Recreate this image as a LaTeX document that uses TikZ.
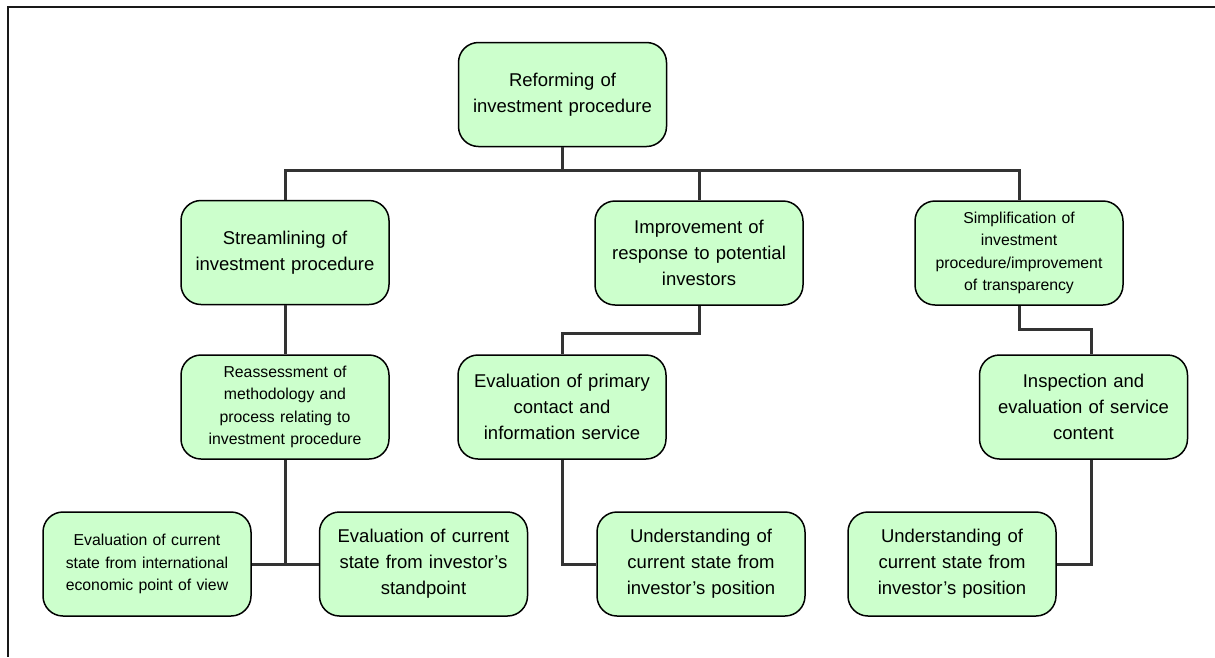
\documentclass[tikz,border=0pt]{standalone}
\usepackage{fontspec}
\setmainfont{Liberation Sans}
\definecolor{boxfill}{RGB}{204,255,204}
\definecolor{linkgray}{RGB}{51,51,51}
\begin{document}
\begin{tikzpicture}[x=1pt,y=-1pt,
  box/.style={draw=black, line width=1.5pt, fill=boxfill, rounded corners=20pt,
    minimum width=208pt, minimum height=104pt, inner sep=0pt,
    align=center, text width=204pt},
  bigtext/.style={font=\fontsize{18.5}{26}\selectfont},
  smalltext/.style={font=\fontsize{15.8}{22.5}\selectfont},
  link/.style={draw=linkgray, line width=3pt, line join=miter}]
\useasboundingbox (0,0) rectangle (1215,657);

% frame (top and left edges)
\draw[line width=2pt, black!90] (1215,6.5) -- (7.5,6.5) -- (7.5,657);

% boxes
\node[box, bigtext]   (top)      at (562.5,94.5) {Reforming of\\investment procedure};
\node[box, bigtext]   (stream)   at (285,252.5)  {Streamlining of\\investment procedure};
\node[box, bigtext]   (improve)  at (699,253)    {Improvement of\\response to potential\\investors};
\node[box, smalltext] (simplif)  at (1019,253)   {Simplification of\\investment\\procedure/improvement\\of transparency};
\node[box, smalltext] (reassess) at (285,407)    {Reassessment of\\methodology and\\process relating to\\investment procedure};
\node[box, bigtext]   (evalprim) at (562,407)    {Evaluation of primary\\contact and\\information service};
\node[box, bigtext]   (inspect)  at (1083.5,407) {Inspection and\\evaluation of service\\content};
\node[box, smalltext] (evalintl) at (147,564)    {Evaluation of current\\state from international\\economic point of view};
\node[box, bigtext]   (evalstand) at (423.5,564) {Evaluation of current\\state from investor’s\\standpoint};
\node[box, bigtext]   (undA)     at (701,564)    {Understanding of\\current state from\\investor’s position};
\node[box, bigtext]   (undB)     at (952,564)    {Understanding of\\current state from\\investor’s position};

% connectors
\coordinate (bus) at (0,170);
\draw[link] (top.south) -- (top.south |- bus);
\draw[link] (stream.north) -- (stream.north |- bus) -| (simplif.north);
\draw[link] (improve.north) -- (improve.north |- bus);

\draw[link] (stream.south) -- (reassess.north);
\draw[link] (reassess.south) -- (reassess.south |- evalintl.east);
\draw[link] (evalintl.east) -- (evalstand.west);

\draw[link] (improve.south) -- ++(0,28) -| (evalprim.north);
\draw[link] (evalprim.south) |- (undA.west);

\draw[link] (simplif.south) -- ++(0,24) -| ([xshift=7.5pt]inspect.north);
\draw[link] ([xshift=7.5pt]inspect.south) |- (undB.east);
\end{tikzpicture}
\end{document}
